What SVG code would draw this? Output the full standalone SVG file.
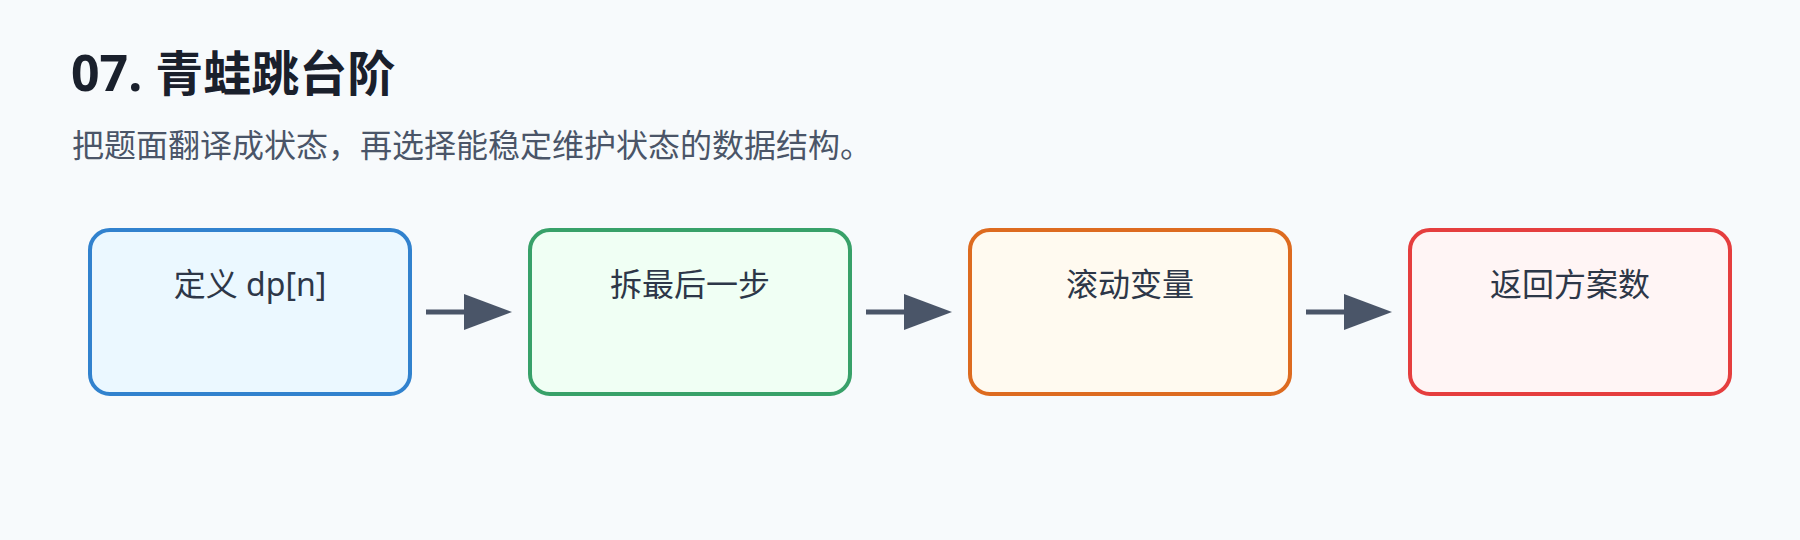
<svg xmlns="http://www.w3.org/2000/svg" width="1800" height="540" viewBox="0 0 1800 540">
  <defs>
    <style>
      .title { font-family: "Noto Sans", "Noto Sans CJK SC", sans-serif; font-size: 48px; font-weight: 700; fill: #1a202c; }
      .subtitle { font-family: "Noto Sans", "Noto Sans CJK SC", sans-serif; font-size: 32px; fill: #4a5568; }
      .label { font-family: "Noto Sans", "Noto Sans CJK SC", sans-serif; font-size: 32px; fill: #2d3748; text-anchor: middle; }
      .box { stroke-width: 4; }
      .conn { stroke: #4a5568; stroke-width: 5; fill: none; }
    </style>
    <marker id="arrow" markerUnits="userSpaceOnUse" markerWidth="48" markerHeight="36" viewBox="0 0 48 36" refX="0" refY="18" orient="auto">
      <path d="M0,0 L48,18 L0,36 Z" fill="#4a5568"/>
    </marker>
  </defs>
  <rect x="0" y="0" width="1800" height="540" fill="#f7fafc"/>
  <text class="title" x="71" y="91"><tspan font-size="50">07. </tspan>青蛙跳台阶</text>
  <text class="subtitle" x="72" y="157">把题面翻译成状态，再选择能稳定维护状态的数据结构。</text>

  <g id="node1">
    <rect class="box" x="90" y="230" width="320" height="164" rx="20" fill="#ebf8ff" stroke="#3182ce"/>
    <text class="label" x="250" y="296">定义 dp[n]</text>
  </g>
  <g id="node2">
    <rect class="box" x="530" y="230" width="320" height="164" rx="20" fill="#f0fff4" stroke="#38a169"/>
    <text class="label" x="690" y="296">拆最后一步</text>
  </g>
  <g id="node3">
    <rect class="box" x="970" y="230" width="320" height="164" rx="20" fill="#fffaf0" stroke="#dd6b20"/>
    <text class="label" x="1130" y="296">滚动变量</text>
  </g>
  <g id="node4">
    <rect class="box" x="1410" y="230" width="320" height="164" rx="20" fill="#fff5f5" stroke="#e53e3e"/>
    <text class="label" x="1570" y="296">返回方案数</text>
  </g>

  <g id="connectors">
    <line class="conn" x1="426" y1="312" x2="464" y2="312" marker-end="url(#arrow)"/>
    <line class="conn" x1="866" y1="312" x2="904" y2="312" marker-end="url(#arrow)"/>
    <line class="conn" x1="1306" y1="312" x2="1344" y2="312" marker-end="url(#arrow)"/>
  </g>
</svg>
